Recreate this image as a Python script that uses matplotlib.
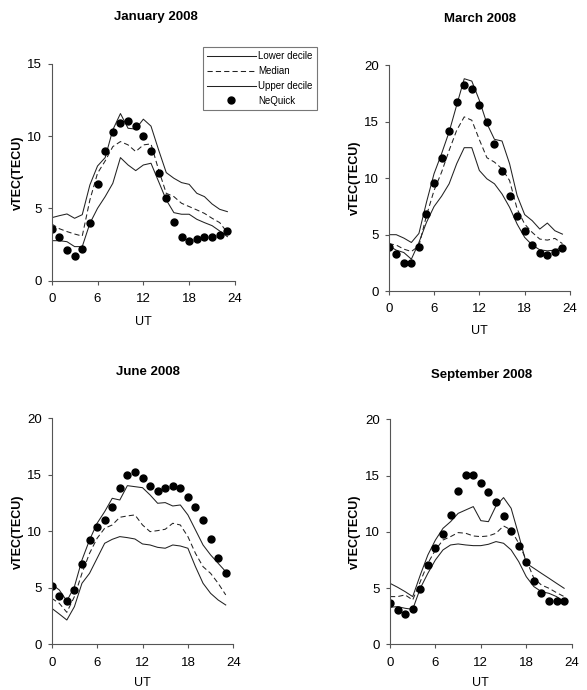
import numpy as np
import matplotlib
matplotlib.use("Agg")
import matplotlib.pyplot as plt

plt.rcParams['font.family'] = ['Liberation Sans', 'DejaVu Sans']

ut = np.arange(24)

# January 2008
jan_nequick = [3.58, 3.05, 2.12, 1.73, 2.19, 4.0, 6.7, 8.98, 10.3, 10.92, 11.06, 10.7,
               10.0, 8.96, 7.48, 5.7, 4.06, 3.05, 2.75, 2.89, 3.05, 3.05, 3.14, 3.44]
jan_upper = [4.36, 4.5, 4.62, 4.32, 4.57, 6.63, 7.94, 8.52, 10.44, 11.57, 10.55, 10.5,
             11.18, 10.7, 9.05, 7.48, 7.09, 6.79, 6.67, 6.05, 5.82, 5.31, 4.94, 4.78]
jan_median = [3.93, 3.6, 3.4, 3.23, 3.09, 5.59, 7.44, 8.29, 9.28, 9.63, 9.4, 8.94,
              9.4, 9.47, 7.67, 6.05, 5.82, 5.36, 5.13, 4.9, 4.66, 4.32, 4.02, 3.33]
jan_lower = [2.77, 2.77, 2.7, 2.36, 2.36, 3.97, 5.01, 5.82, 6.74, 8.52, 8.01, 7.62,
             8.01, 8.13, 6.86, 5.59, 4.71, 4.6, 4.6, 4.25, 4.02, 3.81, 3.44, 3.05]

# March 2008
mar_nequick = [3.86, 3.26, 2.46, 2.46, 3.86, 6.82, 9.61, 11.81, 14.15, 16.74, 18.28, 17.86,
               16.47, 14.99, 13.06, 10.65, 8.43, 6.68, 5.28, 4.07, 3.35, 3.18, 3.47, 3.77]
mar_upper = [4.99, 4.99, 4.69, 4.3, 5.1, 7.86, 10.39, 12.17, 14.1, 16.47, 18.81, 18.6,
             16.9, 14.84, 13.44, 13.29, 11.28, 8.46, 6.77, 6.23, 5.49, 6.02, 5.34, 5.04]
mar_median = [4.2, 4.07, 3.71, 3.5, 4.0, 6.68, 8.9, 10.53, 12.46, 14.24, 15.43, 15.13,
              13.41, 11.81, 11.42, 10.83, 9.79, 7.27, 5.93, 5.19, 4.6, 4.51, 4.66, 4.2]
mar_lower = [4.0, 3.62, 3.41, 2.82, 4.3, 6.08, 7.48, 8.4, 9.5, 11.28, 12.7, 12.7,
             10.68, 9.94, 9.5, 8.6, 7.42, 5.93, 4.75, 4.07, 3.65, 3.56, 3.62, 3.86]

# June 2008
jun_nequick = [5.16, 4.28, 3.83, 4.84, 7.14, 9.2, 10.41, 11.0, 12.18, 13.8, 14.99, 15.28,
               14.69, 14.01, 13.6, 13.8, 14.01, 13.8, 13.07, 12.18, 11.0, 9.32, 7.61, 6.34]
jun_upper = [5.31, 4.81, 3.83, 5.1, 7.46, 9.23, 10.71, 11.74, 12.92, 12.77, 14.04, 13.95,
             13.86, 13.22, 12.48, 12.54, 12.24, 12.33, 11.45, 10.12, 8.79, 7.91, 7.17, 6.43]
jun_median = [4.07, 3.63, 2.83, 4.22, 6.28, 8.05, 9.38, 10.27, 10.56, 11.24, 11.36, 11.45,
              10.56, 9.97, 10.06, 10.18, 10.71, 10.56, 9.53, 8.05, 6.87, 6.28, 5.4, 4.37]
jun_lower = [3.19, 2.68, 2.15, 3.33, 5.4, 6.28, 7.61, 8.94, 9.29, 9.53, 9.44, 9.32,
             8.88, 8.79, 8.58, 8.5, 8.79, 8.7, 8.5, 6.87, 5.4, 4.51, 3.92, 3.48]

# September 2008
sep_nequick = [3.7, 3.05, 2.67, 3.14, 4.89, 7.05, 8.56, 9.78, 11.47, 13.66, 15.05, 15.05,
               14.37, 13.54, 12.62, 11.44, 10.04, 8.77, 7.29, 5.66, 4.53, 3.88, 3.88, 3.88]
sep_upper = [5.42, 5.07, 4.68, 4.24, 6.16, 7.94, 9.27, 10.31, 10.9, 11.64, 11.94, 12.24,
             10.99, 10.9, 12.3, 13.04, 12.09, 9.72, 7.2, 6.76, 6.31, 5.87, 5.42, 4.98]
sep_median = [4.24, 4.24, 4.39, 3.94, 5.57, 7.2, 8.39, 9.27, 9.57, 9.93, 9.87, 9.63,
              9.57, 9.63, 9.87, 10.52, 10.16, 8.98, 7.5, 5.87, 5.27, 4.98, 4.59, 4.24]
sep_lower = [3.29, 3.35, 3.2, 3.11, 4.98, 6.31, 7.5, 8.39, 8.83, 8.92, 8.83, 8.77,
             8.77, 8.89, 9.13, 8.98, 8.39, 7.35, 6.01, 5.13, 4.68, 4.53, 4.24, 3.79]

W, H = 587, 690
fig = plt.figure(figsize=(W / 100, H / 100), dpi=100)


def px_axes(x0, x1, ytop, ybot):
    return fig.add_axes([x0 / W, 1 - ybot / H, (x1 - x0) / W, (ybot - ytop) / H])


panels = [
    # title, data, ymax, axes box (px), title pos, ylabel x, UT y
    ("January 2008", (jan_lower, jan_median, jan_upper, jan_nequick), 15,
     (51.7, 235, 64, 280.7), (156, 17), 18, 322),
    ("March 2008", (mar_lower, mar_median, mar_upper, mar_nequick), 20,
     (388.7, 570, 65.3, 291), (480, 19), 355, 331),
    ("June 2008", (jun_lower, jun_median, jun_upper, jun_nequick), 20,
     (51.7, 233.3, 418.3, 644.3), (148, 372), 18, 683),
    ("September 2008", (sep_lower, sep_median, sep_upper, sep_nequick), 20,
     (390, 571.7, 419.3, 644.3), (482, 375), 355, 683),
]

lc = '#222222'
for title, (lo, med, up, nq), ymax, box, tpos, ylx, uty in panels:
    ax = px_axes(*box)
    ax.plot(ut, lo, color=lc, lw=0.75, label='Lower decile')
    ax.plot(ut, med, color=lc, lw=0.75, ls=(0, (5, 3)), label='Median')
    ax.plot(ut, up, color=lc, lw=0.75, label='Upper decile')
    ax.plot(ut, nq, 'o', color='black', ms=5, label='NeQuick')
    ax.set_xlim(0, 24)
    ax.set_ylim(0, ymax)
    ax.set_xticks([0, 6, 12, 18, 24])
    ax.set_yticks(np.arange(0, ymax + 1, 5))
    for s in ['top', 'right']:
        ax.spines[s].set_visible(False)
    for s in ['left', 'bottom']:
        ax.spines[s].set_color('#555555')
        ax.spines[s].set_linewidth(0.8)
    ax.tick_params(length=3, width=0.8, color='#555555', labelsize=9.5)
    ax.tick_params(axis='x', pad=6)
    ax.tick_params(axis='y', pad=4)
    fig.text(tpos[0] / W, 1 - tpos[1] / H, title, ha='center', va='center',
             fontsize=9.5, fontweight='bold')
    fig.text(ylx / W, 1 - ((box[2] + box[3]) / 2) / H, 'vTEC(TECU)', rotation=90,
             ha='center', va='center', fontsize=9, fontweight='bold')
    fig.text(((box[0] + box[1]) / 2) / W, 1 - uty / H, 'UT', ha='center',
             va='center', fontsize=9)
    if title.startswith('January'):
        leg = ax.legend(loc='upper left', bbox_to_anchor=((203 - box[0]) / (box[1] - box[0]),
                        1 + (box[2] - 47.3) / (box[3] - box[2])),
                        fontsize=7, frameon=True, fancybox=False, edgecolor='#555555',
                        handlelength=5, handletextpad=0.3, borderpad=0.4,
                        labelspacing=0.5, markerfirst=True, borderaxespad=0)
        leg.get_frame().set_linewidth(0.8)

fig.savefig('out.png', dpi=100)
